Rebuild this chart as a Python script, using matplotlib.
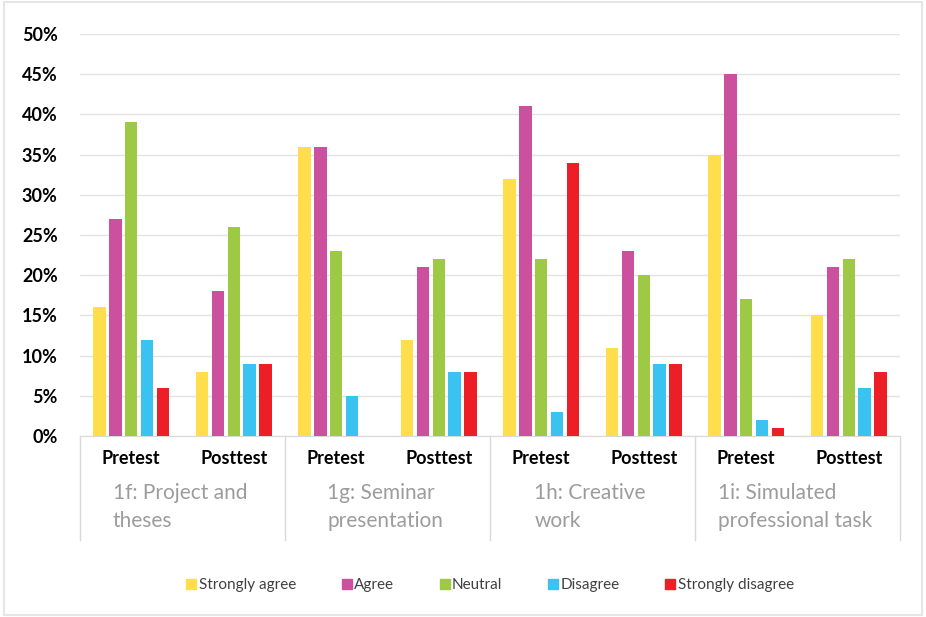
import matplotlib
matplotlib.use("Agg")
from matplotlib import pyplot as plt
from matplotlib.lines import Line2D
from matplotlib.patches import Rectangle
import numpy as np

plt.rcParams['font.family'] = ['Lato', 'DejaVu Sans']

tests = ["Pretest", "Posttest"] * 4
categories = ["1f: Project and\ntheses", "1g: Seminar\npresentation",
              "1h: Creative\nwork", "1i: Simulated\nprofessional task"]
answers = ["Strongly agree", "Agree", "Neutral", "Disagree", "Strongly disagree"]
colors = ["#FFDD4B", "#CB509D", "#9DC944", "#3AC2F0", "#ED1F26"]

strongly_agree = [16, 8, 36, 12, 32, 11, 35, 15]
agree = [27, 18, 36, 21, 41, 23, 45, 21]
neutral = [39, 26, 23, 22, 22, 20, 17, 22]
disagree = [12, 9, 5, 8, 3, 9, 2, 6]
strongly_disagree = [6, 9, 0, 8, 34, 9, 1, 8]
series = [strongly_agree, agree, neutral, disagree, strongly_disagree]

fig = plt.figure(figsize=(9.26, 6.17), dpi=100)
ax = fig.add_axes([80/926, 1 - 436/617, 820/926, 402/617])

x = np.arange(len(tests)) + 0.5
step = 0.155
width = 0.12
for i, (vals, col) in enumerate(zip(series, colors)):
    ax.bar(x + (i - 2) * step, vals, width, color=col, label=answers[i], zorder=3)

ax.set_xlim(0, 8)
ax.set_ylim(0, 50)
ax.set_yticks(np.arange(0, 51, 5))
ax.set_yticklabels([f"{v}%" for v in range(0, 51, 5)], fontsize=13, fontweight='bold')
ax.grid(axis='y', color='#e3e3e3', linewidth=1, zorder=0)
ax.tick_params(axis='y', length=0, pad=16)
ax.set_xticks(x)
ax.set_xticklabels(tests, fontsize=13, fontweight='bold')
ax.tick_params(axis='x', length=0, pad=10)
for s in ['top', 'right', 'left']:
    ax.spines[s].set_visible(False)
ax.spines['bottom'].set_color('#d9d9d9')

# category separators and labels below the axis
for k in range(5):
    fig.add_artist(Line2D([(80 + k * 205) / 926] * 2, [1 - 436/617, 1 - 540/617],
                          color='#d9d9d9', linewidth=1))
for k, cat in enumerate(categories):
    cx = (80 + k * 205 + 100) / 926
    fig.text(cx, 1 - 507/617, cat, ha='center', va='center', fontsize=15,
             color='#9c9c9c', linespacing=1.55, multialignment='left')

# legend
handles = [Rectangle((0, 0), 1, 1, color=c) for c in colors]
fig.legend(handles, answers, loc='center', bbox_to_anchor=(490/926, 1 - 585/617),
           ncol=5, frameon=False, fontsize=11, handlelength=0.65, handleheight=0.65,
           handletextpad=0.15, columnspacing=3.0, labelcolor='#404040')

fig.add_artist(Rectangle((0.004, 0.004), 0.992, 0.992, fill=False,
                         edgecolor='#e6e6e6', linewidth=1.5, transform=fig.transFigure))

fig.savefig("out.png", dpi=100)
